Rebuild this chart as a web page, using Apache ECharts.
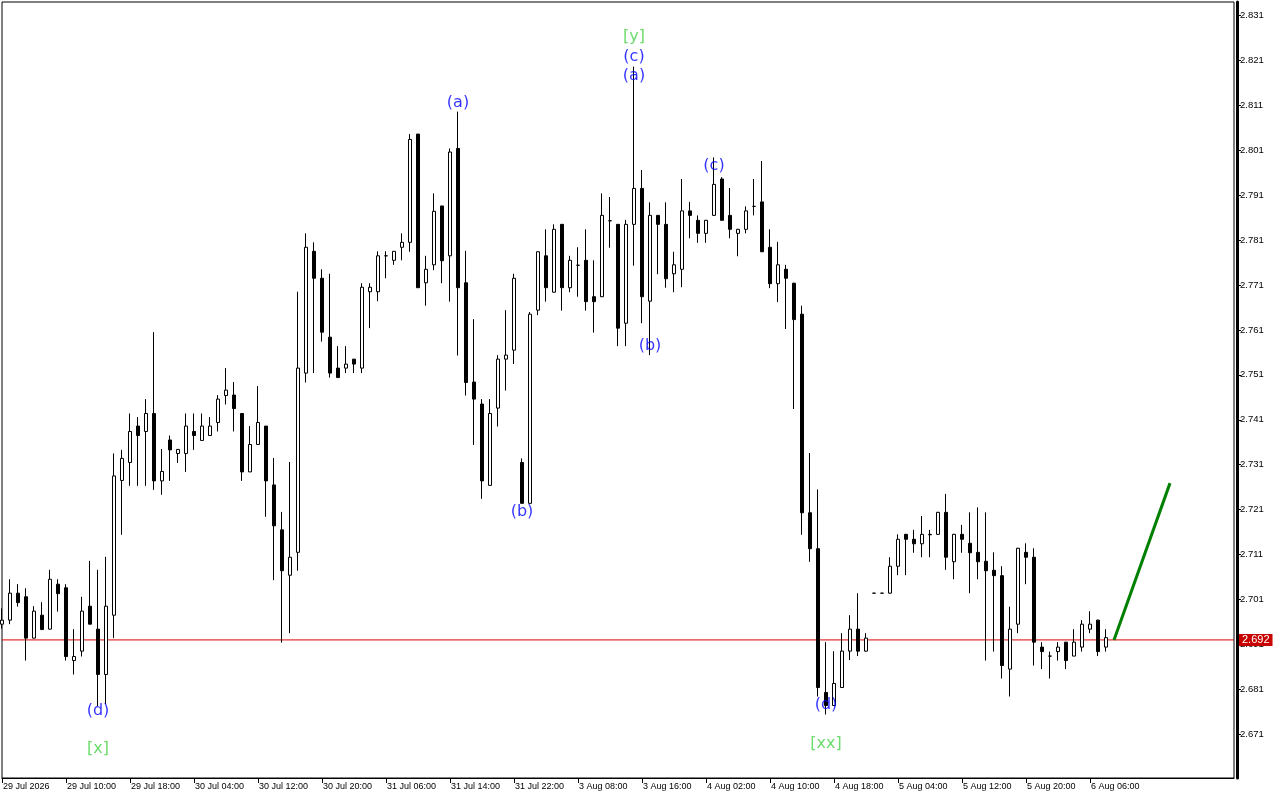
<!DOCTYPE html>
<html><head><meta charset="utf-8">
<script src="https://cdn.jsdelivr.net/npm/echarts@6/dist/echarts.min.js"></script>
<style>html,body{margin:0;padding:0;background:#fff}#c{width:1280px;height:800px}</style>
</head><body><div id="c"></div>
<script>
// ---- time axis (hourly bars, hours 02..23 each trading day) ----
const days = ['29 Jul','30 Jul','31 Jul','3 Aug','4 Aug','5 Aug','6 Aug'];
const firstLabel = '29 Jul 2026';
const lastDayLastHour = 8;
const futureBars = 16;

// ---- OHLC values ----
const open = [2.6955,2.6964,2.7024,2.7016,2.6924,2.6975,2.6944,2.7044,2.7036,2.6874,2.6895,2.6995,2.6944,2.6843,2.6975,2.7275,2.7315,2.7396,2.7384,2.7424,
2.7274,2.7365,2.7335,2.7335,2.7384,2.7364,2.7375,2.7404,2.7464,2.7465,2.7424,2.7294,2.7355,2.7396,2.7265,2.7165,2.7064,2.7115,2.7514,2.7785,
2.7725,2.7594,2.7525,2.7525,2.7545,2.7525,2.7695,2.7695,2.7775,2.7765,2.7794,2.7805,2.8046,2.7715,2.7755,2.7886,2.7775,2.8014,2.7715,2.7494,
2.7445,2.7264,2.7436,2.7545,2.7565,2.7315,2.7224,2.7654,2.7775,2.7694,2.7845,2.7704,2.7754,2.7765,2.7684,2.7684,2.7853,2.7845,2.7625,2.7845,
2.7925,2.7674,2.7865,2.7845,2.7735,2.7745,2.7875,2.7854,2.7825,2.7865,2.7946,2.7865,2.7825,2.7834,2.7885,2.7895,2.7794,2.7713,2.7745,2.7714,
2.7645,2.7203,2.7123,2.6803,2.6774,2.6814,2.6895,2.6944,2.6895,2.7024,2.7024,2.7024,2.7084,2.7155,2.7144,2.7134,2.7154,2.7155,2.7204,2.7094,
2.7155,2.7135,2.7115,2.7095,2.7075,2.7063,2.6855,2.6955,2.7115,2.7104,2.6904,2.6884,2.6894,2.6915,2.6884,2.6904,2.6944,2.6964,2.6904];
const high = [2.6990,2.7055,2.7044,2.7035,2.6995,2.7004,2.7076,2.7055,2.7044,2.6944,2.7016,2.7096,2.7076,2.7105,2.7335,2.7343,2.7424,2.7416,2.7456,2.7605,
2.7345,2.7375,2.7345,2.7424,2.7424,2.7424,2.7416,2.7465,2.7525,2.7494,2.7424,2.7396,2.7485,2.7396,2.7325,2.7205,2.7316,2.7695,2.7825,2.7805,
2.7745,2.7735,2.7574,2.7574,2.7545,2.7714,2.7714,2.7785,2.7785,2.7785,2.7825,2.8046,2.8046,2.7775,2.7914,2.7886,2.8014,2.8096,2.7786,2.7634,
2.7456,2.7456,2.7554,2.7654,2.7735,2.7324,2.7650,2.7785,2.7834,2.7845,2.7846,2.7775,2.7794,2.7834,2.7765,2.7914,2.7906,2.7846,2.7855,2.8196,
2.7966,2.7894,2.7866,2.7894,2.7784,2.7946,2.7895,2.7865,2.7855,2.7994,2.7950,2.7926,2.7835,2.7885,2.7946,2.7986,2.7834,2.7806,2.7755,2.7715,
2.7664,2.7336,2.7255,2.6915,2.6895,2.6935,2.6975,2.7024,2.6935,2.7024,2.7024,2.7104,2.7155,2.7156,2.7165,2.7196,2.7165,2.7205,2.7245,2.7156,
2.7176,2.7204,2.7215,2.7204,2.7115,2.7084,2.6994,2.7125,2.7135,2.7124,2.6915,2.6894,2.6915,2.6915,2.6944,2.6964,2.6984,2.6965,2.6944];
const low = [2.6945,2.6955,2.6994,2.6874,2.6923,2.6943,2.6943,2.6983,2.6874,2.6843,2.6883,2.6955,2.6773,2.6777,2.6924,2.7154,2.7263,2.7263,2.7263,2.7254,
2.7243,2.7274,2.7314,2.7294,2.7343,2.7364,2.7375,2.7384,2.7444,2.7384,2.7274,2.7294,2.7355,2.7194,2.7053,2.6914,2.6935,2.7074,2.7493,2.7514,
2.7584,2.7504,2.7504,2.7514,2.7514,2.7514,2.7614,2.7674,2.7725,2.7755,2.7765,2.7784,2.7704,2.7664,2.7743,2.7714,2.7673,2.7553,2.7464,2.7354,
2.7234,2.7264,2.7395,2.7475,2.7534,2.7224,2.7224,2.7643,2.7673,2.7693,2.7653,2.7694,2.7684,2.7653,2.7604,2.7683,2.7793,2.7574,2.7574,2.7753,
2.7625,2.7554,2.7734,2.7704,2.7694,2.7705,2.7814,2.7804,2.7804,2.7864,2.7854,2.7814,2.7774,2.7825,2.7865,2.7784,2.7703,2.7672,2.7612,2.7434,
2.7154,2.7094,2.6794,2.6754,2.6773,2.6813,2.6875,2.6884,2.6894,2.7024,2.7024,2.7023,2.7064,2.7064,2.7114,2.7104,2.7104,2.7154,2.7076,2.7055,
2.7114,2.7024,2.7055,2.6874,2.6894,2.6834,2.6794,2.6935,2.7044,2.6863,2.6855,2.6834,2.6874,2.6855,2.6884,2.6894,2.6935,2.6884,2.6894];
const close = [2.6964,2.7024,2.7003,2.6924,2.6984,2.6943,2.7055,2.7023,2.6883,2.6883,2.6984,2.6955,2.6843,2.6995,2.7285,2.7324,2.7384,2.7375,2.7424,2.7274,
2.7295,2.7343,2.7344,2.7396,2.7375,2.7396,2.7396,2.7456,2.7476,2.7435,2.7294,2.7355,2.7404,2.7274,2.7174,2.7074,2.7104,2.7525,2.7794,2.7725,
2.7605,2.7514,2.7504,2.7534,2.7534,2.7705,2.7705,2.7775,2.7775,2.7785,2.7805,2.8034,2.7704,2.7745,2.7874,2.7764,2.8006,2.7704,2.7493,2.7456,
2.7274,2.7424,2.7545,2.7554,2.7725,2.7224,2.7645,2.7784,2.7704,2.7834,2.7704,2.7765,2.7754,2.7673,2.7673,2.7865,2.7853,2.7614,2.7845,2.7925,
2.7684,2.7865,2.7845,2.7724,2.7755,2.7875,2.7865,2.7825,2.7854,2.7934,2.7854,2.7834,2.7834,2.7875,2.7885,2.7784,2.7713,2.7755,2.7725,2.7633,
2.7203,2.7123,2.6814,2.6774,2.6823,2.6895,2.6944,2.6895,2.6924,2.7024,2.7024,2.7084,2.7144,2.7144,2.7134,2.7155,2.7155,2.7204,2.7104,2.7155,
2.7144,2.7114,2.7094,2.7074,2.7063,2.6863,2.6944,2.7124,2.7104,2.6915,2.6894,2.6884,2.6904,2.6874,2.6915,2.6955,2.6955,2.6894,2.6925];

// ---- price axis ticks and current price ----
const yTicks = [2.671,2.681,2.691,2.701,2.711,2.721,2.731,2.741,2.751,2.761,2.771,2.781,2.791,2.801,2.811,2.821,2.831];
const yMin = 2.66126, yMax = 2.83400;
const bidPrice = 2.692;

// ---- projection line (bar index, price) ----
const projBars = [139, 146];
const projPrices = [2.692, 2.7269];

// ---- wave labels ----
const waveText  = ['(d)','[x]','(a)','(b)','[y]','(c)','(a)','(b)','(c)','(d)','[xx]'];
const waveBar   = [12, 12, 57, 65, 79, 79, 79, 81, 89, 103, 103];
const wavePrice = [2.6762, 2.6677, 2.8115, 2.7205, 2.8262, 2.8218, 2.8175, 2.7574, 2.7975, 2.6775, 2.6688];
const waveKind  = ['minor','major','minor','minor','major','minor','minor','minor','minor','minor','major'];
const kindColor = {minor:'#0000ff', major:'#46d246'};

// ---- build categories ----
const cats = [];
days.forEach((d, di) => {
  const lastH = di === days.length - 1 ? lastDayLastHour : 23;
  for (let h = 2; h <= lastH; h++) cats.push(d + ' ' + String(h).padStart(2,'0') + ':00');
});
const nBars = cats.length;
for (let k = 1; k <= futureBars; k++) cats.push('f' + k);
cats[0] = firstLabel;
const lastCat = cats.length - 1;

const candles = open.map((o, i) => [o, close[i], low[i], high[i]]);
const showIdx = (i) => i % 8 === 0 && i < nBars;
const FONT = 'Liberation Sans';

const chart = echarts.init(document.getElementById('c'), null, {renderer:'canvas'});
chart.setOption({
  animation: false,
  backgroundColor: '#fff',
  grid: {left: 2, top: 2, width: 1232, height: 776, show: true, borderColor: '#000', borderWidth: 1, backgroundColor: '#fff'},
  xAxis: {
    type: 'category', data: cats, boundaryGap: false,
    axisLine: {show: true, lineStyle: {color: '#000', width: 1}},
    axisTick: {show: true, interval: showIdx, length: 5, lineStyle: {color: '#000'}},
    axisLabel: {show: true, interval: showIdx, align: 'left', margin: 4, padding: [0,0,0,1],
      fontFamily: FONT, fontSize: 9, color: '#000'},
    splitLine: {show: false}
  },
  yAxis: {
    type: 'value', position: 'right', min: yMin, max: yMax, offset: 3,
    splitLine: {show: false},
    axisLine: {show: true, onZero: false, lineStyle: {color: '#000', width: 3}},
    axisTick: {show: true, customValues: yTicks, length: 4, lineStyle: {color: '#000'}},
    axisLabel: {show: true, customValues: yTicks, formatter: v => v.toFixed(3), margin: 3,
      fontFamily: FONT, fontSize: 9.5, color: '#000'}
  },
  series: [
    {
      type: 'candlestick', data: candles, barWidth: 4, clip: true, silent: true, z: 3,
      itemStyle: {color: '#fff', color0: '#000', borderColor: '#000', borderColor0: '#000', borderWidth: 1}
    },
    {
      type: 'line', data: [[0, bidPrice], [lastCat, bidPrice]], symbol: 'none', silent: true, z: 2,
      lineStyle: {color: '#e00000', width: 1},
      endLabel: {show: true, distance: 5, formatter: bidPrice.toFixed(3), color: '#fff',
        backgroundColor: '#c80000', padding: [1,3,0,3], fontFamily: FONT, fontSize: 11}
    },
    {
      type: 'line', data: projBars.map((b, i) => [b, projPrices[i]]), symbol: 'none', silent: true,
      lineStyle: {color: '#008000', width: 3}, z: 5
    },
    {
      type: 'scatter', silent: true, symbolSize: 1, z: 6,
      itemStyle: {color: 'rgba(0,0,0,0)'},
      data: waveText.map((t, i) => ({
        value: [waveBar[i], wavePrice[i]], name: t,
        label: {color: kindColor[waveKind[i]]}
      })),
      label: {show: true, position: 'inside', formatter: p => p.name,
        fontFamily: 'DejaVu Sans', fontSize: 16}
    }
  ]
});
</script>
</body></html>
